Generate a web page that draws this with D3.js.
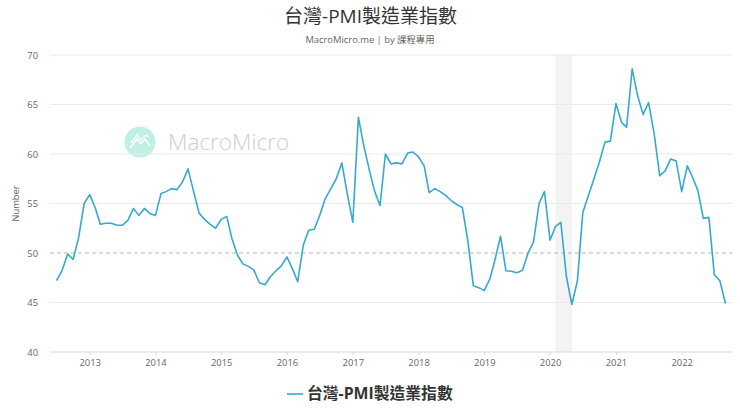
<!DOCTYPE html>
<html>
<head>
<meta charset="utf-8">
<script src="https://cdn.jsdelivr.net/npm/d3@7"></script>
<style>
  html, body { margin: 0; padding: 0; background: #fff; }
  text { font-family: "Open Sans", "Noto Sans CJK TC", sans-serif; }
</style>
</head>
<body>
<div id="chart"></div>
<script>
var titleText = "台灣-PMI製造業指數";
var subtitleText = "MacroMicro.me | by 課程專用";
var yTicks = [40, 45, 50, 55, 60, 65, 70];
var xTickYears = [2013, 2014, 2015, 2016, 2017, 2018, 2019, 2020, 2021, 2022];
var firstMonth = new Date(2012, 6, 1);
var recessionBand = [new Date(2020, 1, 1), new Date(2020, 4, 1)];
// monthly values, 2012-07 to 2022-09
var pmiValues = [
  47.2, 48.25, 49.9, 49.35, 51.6, 55.0,
  55.9, 54.55, 52.9, 53.0, 53.0, 52.8, 52.8, 53.3, 54.5, 53.8, 54.5, 54.0,
  53.8, 56.0, 56.2, 56.5, 56.4, 57.2, 58.5, 56.2, 54.0, 53.4, 52.9, 52.5,
  53.4, 53.7, 51.5, 49.8, 48.9, 48.65, 48.3, 47.0, 46.8, 47.6, 48.2, 48.7,
  49.6, 48.4, 47.1, 50.8, 52.3, 52.4, 53.8, 55.5, 56.5, 57.5, 59.1, 56.0,
  53.1, 63.7, 61.0, 58.5, 56.3, 54.8, 60.0, 59.0, 59.1, 59.0, 60.1, 60.2,
  59.7, 58.8, 56.1, 56.5, 56.2, 55.8, 55.3, 54.9, 54.6, 51.3, 46.7, 46.5,
  46.2, 47.4, 49.3, 51.7, 48.2, 48.15, 48.0, 48.25, 50.0, 51.1, 55.0, 56.2,
  51.3, 52.7, 53.1, 47.6, 44.8, 47.2, 54.1, 55.8, 57.5, 59.2, 61.2, 61.3,
  65.1, 63.2, 62.7, 68.6, 65.9, 64.0, 65.2, 62.05, 57.8, 58.3, 59.5, 59.3,
  56.2, 58.8, 57.7, 56.3, 53.5, 53.6, 47.8, 47.2, 44.9
];

var width = 740, height = 416;
var plotLeft = 50, plotRight = 732, plotTop = 55, plotBottom = 352;

var svg = d3.select("#chart").append("svg")
  .attr("width", width).attr("height", height)
  .style("display", "block");

var months = pmiValues.map(function(d, i){ return d3.timeMonth.offset(firstMonth, i); });

// 2013 sits at 89.7px and 2022 at 681.7px in the reference
var x = d3.scaleTime()
  .domain([new Date(2013, 0, 1), new Date(2022, 0, 1)])
  .range([89.7, 681.7]);
var y = d3.scaleLinear().domain([40, 70]).range([plotBottom, plotTop]);

// Titles
svg.append("text").attr("x", 370.5).attr("y", 23).attr("text-anchor", "middle")
  .attr("font-size", 19).attr("fill", "#333").text(titleText);
svg.append("text").attr("x", 370).attr("y", 43).attr("text-anchor", "middle")
  .attr("font-size", 9.4).attr("fill", "#666").text(subtitleText);

// Recession band
svg.append("rect")
  .attr("x", x(recessionBand[0])).attr("y", plotTop)
  .attr("width", x(recessionBand[1]) - x(recessionBand[0]))
  .attr("height", plotBottom - plotTop)
  .attr("fill", "#f3f3f3");

// Watermark
var mark = svg.append("g");
mark.append("circle").attr("cx", 140).attr("cy", 142).attr("r", 15.5).attr("fill", "#bff0e3");
mark.append("path")
  .attr("d", "M130 148 L137 139 L141 144 L145 139 L150 146 M131 143 L137 135 L141 140 L146 135 L149 137")
  .attr("fill", "none").attr("stroke", "#fff").attr("stroke-width", 1.4);
mark.append("text").attr("x", 168).attr("y", 150)
  .attr("font-size", 22.5).attr("font-weight", 300).attr("fill", "#cfcfcf").text("MacroMicro");

// Y axis with grid lines
var yAxis = svg.append("g")
  .attr("transform", "translate(" + plotLeft + ",0)")
  .call(d3.axisLeft(y).tickValues(yTicks).tickSize(0).tickPadding(12));
yAxis.select(".domain").remove();
yAxis.selectAll("text").attr("font-size", 9.4).attr("fill", "#666")
  .style("font-family", '"Open Sans", sans-serif');

svg.append("g").selectAll("line")
  .data(yTicks.filter(function(t){ return t != 50 && t != 40; }))
  .join("line")
  .attr("x1", plotLeft).attr("x2", plotRight)
  .attr("y1", function(d){ return y(d); }).attr("y2", function(d){ return y(d); })
  .attr("stroke", "#e9e9e9").attr("stroke-width", 1);

// X axis
var xAxis = svg.append("g")
  .attr("transform", "translate(0," + plotBottom + ")")
  .call(d3.axisBottom(x)
    .tickValues(xTickYears.map(function(yr){ return new Date(yr, 0, 1); }))
    .tickFormat(d3.timeFormat("%Y")).tickSize(3).tickPadding(4));
xAxis.select(".domain").attr("d", "M" + plotLeft + ",0H" + plotRight).attr("stroke", "#d8d8d8");
xAxis.selectAll(".tick line").attr("stroke", "#d8d8d8");
xAxis.selectAll("text").attr("font-size", 9.4).attr("fill", "#666")
  .style("font-family", '"Open Sans", sans-serif');

// Axis title
svg.append("text")
  .attr("transform", "translate(19," + y(55) + ") rotate(-90)")
  .attr("text-anchor", "middle").attr("font-size", 9.4).attr("fill", "#666")
  .text("Number");

// Reference line at 50
svg.append("line")
  .attr("x1", plotLeft).attr("x2", plotRight)
  .attr("y1", y(50)).attr("y2", y(50))
  .attr("stroke", "#b5b5b5").attr("stroke-width", 1).attr("stroke-dasharray", "4,3");

// PMI line
var line = d3.line()
  .x(function(d, i){ return x(months[i]); })
  .y(function(d){ return y(d); });
svg.append("path").datum(pmiValues)
  .attr("d", line).attr("fill", "none")
  .attr("stroke", "#36a9cf").attr("stroke-width", 1.6)
  .attr("stroke-linejoin", "round");

// Legend
svg.append("line").attr("x1", 287).attr("x2", 303).attr("y1", 394).attr("y2", 394)
  .attr("stroke", "#36a9cf").attr("stroke-width", 1.6);
svg.append("text").attr("x", 307).attr("y", 399)
  .attr("font-size", 15.8).attr("font-weight", 700).attr("fill", "#333").text(titleText);
</script>
</body>
</html>
